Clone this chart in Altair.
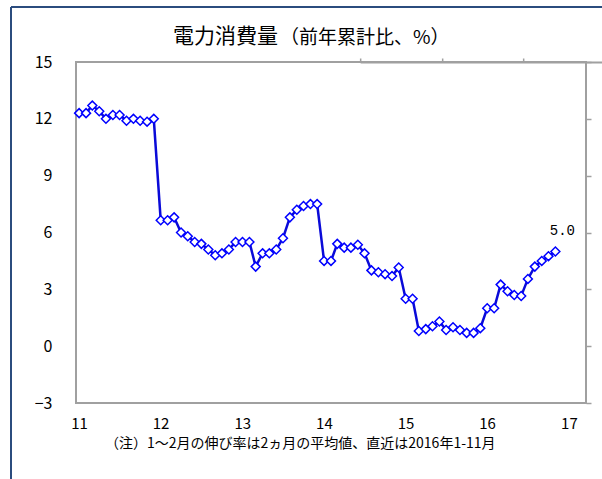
import altair as alt
import pandas as pd

# Year-to-date electricity consumption growth (%), monthly; Jan/Feb share the 2-month average
years = [2011, 2012, 2013, 2014, 2015, 2016]
v2011 = [12.3, 12.3, 12.7, 12.4, 12.0, 12.2, 12.2, 11.9, 12.0, 11.9, 11.85, 12.0]
v2012 = [6.65, 6.65, 6.8, 6.0, 5.8, 5.5, 5.4, 5.1, 4.8, 4.9, 5.1, 5.5]
v2013 = [5.5, 5.5, 4.2, 4.9, 4.9, 5.1, 5.7, 6.8, 7.2, 7.4, 7.5, 7.5]
v2014 = [4.5, 4.5, 5.4, 5.2, 5.2, 5.35, 4.9, 4.0, 3.9, 3.8, 3.7, 4.15]
v2015 = [2.5, 2.5, 0.8, 0.9, 1.05, 1.3, 0.85, 1.0, 0.85, 0.7, 0.7, 0.95]
v2016 = [2.0, 2.0, 3.25, 2.9, 2.7, 2.65, 3.55, 4.2, 4.5, 4.75, 5.0]
series = [v2011, v2012, v2013, v2014, v2015, v2016]

tick_years = [2011, 2012, 2013, 2014, 2015, 2016, 2017]
y_ticks = [-3, 0, 3, 6, 9, 12, 15]

title_main = "電力消費量"
title_sub = "（前年累計比、%）"
note = "（注）1～2月の伸び率は2ヵ月の平均値、直近は2016年1-11月"

rows = []
for yr, vals in zip(years, series):
    for i, v in enumerate(vals):
        rows.append({"date": f"{yr}-{i + 1:02d}-15", "value": v})
df = pd.DataFrame(rows)
last = df.iloc[[-1]]
ticks_df = pd.DataFrame({"date": [f"{y}-01-01" for y in tick_years], "value": 0})

W, H = 510, 341
zero_px = H * 15 / 18
NUM_FONT = "Liberation Sans Narrow, Noto Sans CJK JP, sans-serif"
JP_FONT = "Noto Sans CJK JP"
GRAY = "#a0a0a0"
BLUE = "#0000ff"

xs = alt.Scale(
    type="utc",
    domain=[alt.DateTime(year=2011, month=1, date=1, utc=True),
            alt.DateTime(year=2017, month=4, date=1, utc=True)],
)
ys = alt.Scale(domain=[-3, 15], nice=False, zero=False)

tick_vals = [alt.DateTime(year=y, month=1, date=1, utc=True) for y in tick_years]

bottom_axis = alt.Axis(
    values=tick_vals, labelExpr="utcFormat(datum.value, '%y')", ticks=False, tickSize=0,
    domain=False, grid=False, labelPadding=20, labelOffset=3, labelFlush=False,
    labelFont=NUM_FONT, labelFontSize=15, labelColor="black", title=None,
    labelBaseline="middle",
)
left_axis = alt.Axis(
    values=y_ticks, ticks=False, tickSize=0, domain=False, grid=False, labelPadding=24,
    labelFont=NUM_FONT, labelFontSize=16, labelColor="black", title=None,
    labelFlush=False,
    labelExpr="datum.value < 0 ? '−' + abs(datum.value) : datum.label",
)
zero_axis = alt.Axis(
    orient="top", position=zero_px, values=tick_vals, labels=False, ticks=True, tickSize=4,
    tickColor=GRAY, tickWidth=1.5, domain=True, domainColor=GRAY, domainWidth=2,
    grid=False, title=None,
)
inner_y_axis = alt.Axis(
    orient="right", position=0, values=y_ticks, labels=False, ticks=True, tickSize=5,
    tickColor=GRAY, tickWidth=1.5, domain=False, grid=False, title=None,
)

base = alt.Chart(df)
line = base.mark_line(color="#0a0ad8", strokeWidth=2.5).encode(
    x=alt.X("date:T", scale=xs, axis=bottom_axis),
    y=alt.Y("value:Q", scale=ys, axis=left_axis),
)
points = base.mark_point(
    shape="diamond", filled=True, fill="white", stroke=BLUE, strokeWidth=1.5,
    size=80, opacity=1,
).encode(
    x=alt.X("date:T", scale=xs, axis=None),
    y=alt.Y("value:Q", scale=ys, axis=None),
)
frame_ticks = alt.Chart(ticks_df).mark_point(opacity=0).encode(
    x=alt.X("date:T", scale=xs, axis=zero_axis),
    y=alt.Y("value:Q", scale=ys, axis=inner_y_axis),
)
end_label = alt.Chart(last).mark_text(
    font="Liberation Mono", fontSize=14, dx=7, dy=-20, color="black",
).encode(
    x=alt.X("date:T", scale=xs, axis=None),
    y=alt.Y("value:Q", scale=ys, axis=None),
    text=alt.Text("value:Q", format=".1f"),
)

title1 = alt.Chart(pd.DataFrame({"t": [title_main]})).mark_text(
    font=JP_FONT, fontSize=21, align="left", baseline="middle", color="black",
).encode(x=alt.value(97), y=alt.value(-25), text="t:N")
title2 = alt.Chart(pd.DataFrame({"t": [title_sub]})).mark_text(
    font=JP_FONT, fontSize=19, align="left", baseline="middle", color="black",
).encode(x=alt.value(204), y=alt.value(-24), text="t:N")
footnote = alt.Chart(pd.DataFrame({"t": [note]})).mark_text(
    font=JP_FONT, fontSize=14, align="left", baseline="middle", color="black",
).encode(x=alt.value(29), y=alt.value(382), text="t:N")

# outer border of the figure panel
border_top = alt.Chart(pd.DataFrame({"k": [0]})).mark_rule(
    color="#2b4c7e", strokeWidth=2
).encode(x=alt.value(-65), x2=alt.value(540), y=alt.value(-55))
border_left = alt.Chart(pd.DataFrame({"k": [0]})).mark_rule(
    color="#2b4c7e", strokeWidth=2
).encode(x=alt.value(-65), y=alt.value(-55), y2=alt.value(430))

chart = alt.layer(
    border_top, border_left, frame_ticks, line, points, end_label, title1, title2, footnote,
).resolve_axis(x="independent", y="independent").properties(
    width=W, height=H,
    autosize=alt.AutoSizeParams(type="none"),
    padding={"left": 76, "top": 62, "right": 16, "bottom": 76},
    background="white",
).configure_view(stroke=GRAY, strokeWidth=2)

chart.save("out.html", embed_options={"renderer": "svg", "actions": False})
